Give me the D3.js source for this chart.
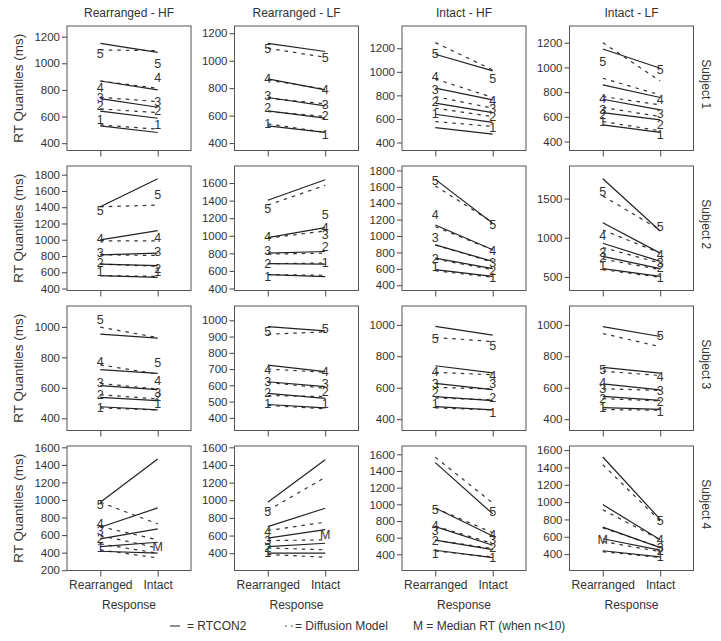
<!DOCTYPE html>
<html><head><meta charset="utf-8">
<script src="https://cdn.jsdelivr.net/npm/d3@7"></script>
<style>body{margin:0;background:#fff}svg{display:block}text{font-family:"Liberation Sans",Arial,sans-serif;fill:#333}</style>
</head><body>
<script>
const columns = ["Rearranged - HF","Rearranged - LF","Intact - HF","Intact - LF"];
const subjects = ["Subject 1","Subject 2","Subject 3","Subject 4"];
const responses = ["Rearranged","Intact"];
const quantiles = ["1","2","3","4","5"];

// y-axis domain and tick labels per [subject][column]
const yDomains = [
  [[345,1280],[346,1253],[332,1389],[327,1335]],
  [[376,1907],[377,1794],[336,1854],[327,1915]],
  [[320,1137],[322,1088],[328,1120],[328,1120]],
  [[197,1615],[204,1615],[206,1700],[211,1647]]
];
const yTicks = [
  [[400,600,800,1000,1200],[400,600,800,1000,1200],[400,600,800,1000,1200],[400,600,800,1000,1200]],
  [[400,600,800,1000,1200,1400,1600,1800],[400,600,800,1000,1200,1400,1600],[400,600,800,1000,1200,1400,1600,1800],[500,1000,1500]],
  [[400,600,800,1000],[400,500,600,700,800,900,1000],[400,600,800,1000],[400,600,800,1000]],
  [[200,400,600,800,1000,1200,1400,1600],[400,600,800,1000,1200,1400,1600],[400,600,800,1000,1200,1400,1600],[400,600,800,1000,1200,1400,1600]]
];

// RTCON2 predictions: [subject][column][quantile] = [Rearranged, Intact]
const rtcon2 = [
 [[[530,480],[640,587],[735,670],[867,800],[1150,1082]],
  [[526,478],[635,582],[732,671],[868,788],[1127,1067]],
  [[527,471],[640,570],[734,654],[861,762],[1149,1008]],
  [[535,473],[634,575],[742,656],[858,756],[1149,993]]],
 [[[558,538],[701,681],[815,835],[998,1112],[1405,1751]],
  [[558,535],[682,678],[803,821],[979,1092],[1404,1638]],
  [[590,509],[731,602],[892,691],[1134,832],[1691,1155]],
  [[605,508],[762,605],[930,698],[1192,804],[1753,1086]]],
 [[[476,455],[537,516],[614,588],[719,695],[952,926]],
  [[482,461],[551,520],[622,592],[724,684],[961,935]],
  [[480,459],[544,518],[628,588],[740,694],[990,935]],
  [[474,463],[545,520],[625,587],[730,693],[989,926]]],
 [[[416,394],[470,519],[557,671],[690,910],[975,1468]],
  [[400,400],[475,513],[570,668],[702,909],[977,1460]],
  [[449,360],[570,457],[732,509],[955,619],[1501,886]],
  [[439,369],[577,447],[711,475],[971,565],[1520,800]]]
];

// Diffusion model predictions: [subject][column][quantile] = [Rearranged, Intact]
const diffusion = [
 [[[537,505],[657,630],[745,712],[867,812],[1100,1095]],
  [[540,478],[630,594],[727,686],[860,793],[1091,1025]],
  [[578,536],[691,620],[790,691],[940,782],[1248,1016]],
  [[562,486],[675,602],[764,696],[912,777],[1200,890]]],
 [[[558,550],[701,673],[815,807],[986,986],[1405,1426]],
  [[558,550],[682,690],[791,802],[972,1055],[1348,1574]],
  [[578,497],[719,590],[892,682],[1114,832],[1611,1167]],
  [[593,496],[728,593],[875,677],[1099,804],[1534,1099]]],
 [[[468,455],[555,527],[629,592],[751,690],[998,930]],
  [[476,455],[537,531],[618,582],[700,680],[914,929]],
  [[472,459],[535,523],[603,592],[698,683],[920,894]],
  [[461,457],[531,516],[594,583],[705,678],[945,861]]],
 [[[432,340],[500,394],[595,454],[697,546],[975,728]],
  [[385,355],[460,438],[543,551],[657,751],[883,1260]],
  [[440,368],[570,469],[740,530],[955,659],[1566,1015]],
  [[428,361],[546,428],[703,479],[912,565],[1431,782]]]
];

// Observed quantiles: [subject][column] = [Rearranged, Intact]; a single number = median (M)
const observed = [
 [[[580,680,742,820,1075],[537,642,712,895,1000]],
  [[540,662,744,868,1091],[465,599,684,793,1025]],
  [[649,748,847,960,1158],[527,620,691,753,946]],
  [[562,615,656,750,1047],[454,535,629,742,985]]],
 [[[612,726,848,1019,1365],[604,652,856,1027,1556]],
  [[539,682,829,991,1310],[701,878,1017,1092,1243]],
  [[630,731,981,1263,1679],[497,578,682,820,1142]],
  [[647,749,816,1027,1584],[496,614,690,791,1141]]],
 [[[468,555,636,773,1046],[498,542,570,647,767]],
  [[486,557,625,700,931],[486,561,612,686,951]],
  [[497,571,628,704,916],[444,539,624,681,867]],
  [[474,531,594,636,714],[450,513,580,672,930]]],
 [[[454,557,652,728,948],470],
  [[411,468,543,649,876],611],
  [[408,562,683,752,934],[368,481,578,643,914]],
  [565,[369,447,479,573,782]]]
];

const W = 721, H = 641;
const pw = 124, ph = 124.5;
const colX = c => 67 + c * 167.5;
const rowY = r => 26 + r * 140;

const svg = d3.select("body").append("svg").attr("width", W).attr("height", H);

const x = d3.scalePoint().domain(responses).range([0, pw]).padding(0.58);

subjects.forEach((subj, r) => {
  columns.forEach((col, c) => {
    const g = svg.append("g").attr("transform", `translate(${colX(c)},${rowY(r)})`);
    const y = d3.scaleLinear().domain(yDomains[r][c]).range([ph, 0]);

    // y axis
    const ya = g.append("g").call(d3.axisLeft(y).tickValues(yTicks[r][c]).tickSize(5).tickPadding(2).tickFormat(d3.format("d")));
    ya.select(".domain").remove();
    ya.selectAll("line").attr("stroke", "#444");
    ya.selectAll("text").style("font-size", "11.5px").attr("fill", "#333");

    // x ticks
    const xa = g.append("g").attr("transform", `translate(0,${ph})`)
      .call(d3.axisBottom(x).tickSize(6).tickPadding(4));
    xa.select(".domain").remove();
    xa.selectAll("line").attr("stroke", "#444");
    if (r < 3) xa.selectAll("text").remove();
    else xa.selectAll("text").style("font-size", "12px").attr("fill", "#333");

    g.append("rect").attr("width", pw).attr("height", ph)
      .attr("fill", "none").attr("stroke", "#555").attr("stroke-width", 1);

    const line = d3.line().x((d, i) => x(responses[i])).y(d => y(d));

    g.selectAll(".dif").data(diffusion[r][c]).join("path")
      .attr("d", line).attr("fill", "none").attr("stroke", "#333")
      .attr("stroke-width", 1.2).attr("stroke-dasharray", "3.5,5");

    g.selectAll(".rt").data(rtcon2[r][c]).join("path")
      .attr("d", line).attr("fill", "none").attr("stroke", "#222")
      .attr("stroke-width", 1.2);

    observed[r][c].forEach((side, si) => {
      const items = Array.isArray(side)
        ? side.map((v, qi) => ({ v, t: quantiles[qi] }))
        : [{ v: side, t: "M" }];
      g.selectAll(null).data(items).join("text")
        .attr("x", x(responses[si])).attr("y", d => y(d.v))
        .attr("text-anchor", "middle").attr("dy", "0.36em")
        .style("font-size", "12.5px").attr("fill", "#3a3a3a")
        .text(d => d.t);
    });

    if (r === 0) {
      g.append("text").attr("x", pw / 2).attr("y", -9)
        .attr("text-anchor", "middle").style("font-size", "12px").text(col);
    }
    if (r === 3) {
      g.append("text").attr("x", pw / 2).attr("y", ph + 38)
        .attr("text-anchor", "middle").style("font-size", "12px").text("Response");
    }
    if (c === 0) {
      g.append("text").attr("transform", `translate(${-49},${ph / 2}) rotate(-90)`)
        .attr("text-anchor", "middle").attr("dy", "0.35em")
        .style("font-size", "13.5px").text("RT Quantiles (ms)");
    }
    if (c === 3) {
      g.append("text").attr("transform", `translate(${pw + 13},${ph / 2 - 4}) rotate(90)`)
        .attr("text-anchor", "middle").attr("dy", "0.35em")
        .style("font-size", "12px").text(subj);
    }
  });
});

// legend
const lg = svg.append("g").attr("transform", "translate(0,626)");
lg.append("line").attr("x1", 170).attr("x2", 180).attr("y1", 0).attr("y2", 0).attr("stroke", "#444").attr("stroke-width", 1.2);
lg.append("text").attr("x", 187).attr("y", 0).attr("dy", "0.35em").style("font-size", "12px").text("= RTCON2");
lg.append("line").attr("x1", 285).attr("x2", 294).attr("y1", 0).attr("y2", 0).attr("stroke", "#555").attr("stroke-width", 1.2).attr("stroke-dasharray", "2,4");
lg.append("text").attr("x", 295).attr("y", 0).attr("dy", "0.35em").style("font-size", "12px").text("= Diffusion Model");
lg.append("text").attr("x", 413).attr("y", 0).attr("dy", "0.35em").style("font-size", "12px").text("M = Median RT (when n<10)");
</script>
</body></html>
